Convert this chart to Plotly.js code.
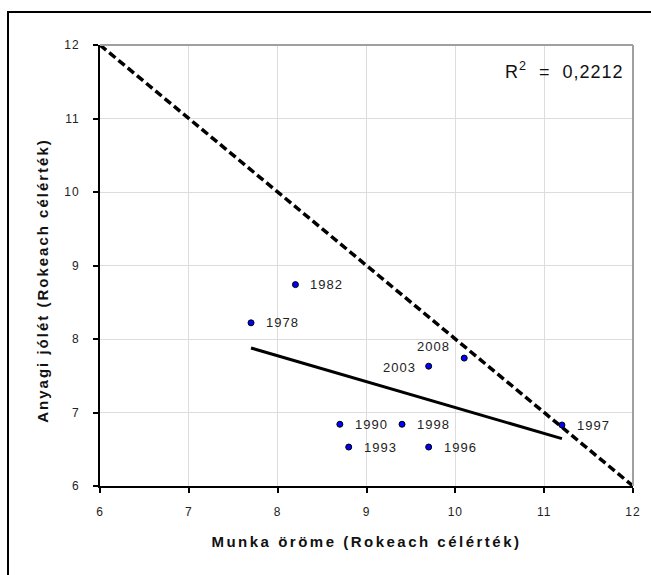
<!DOCTYPE html>
<html><head><meta charset="utf-8">
<script src="https://cdn.plot.ly/plotly-3.0.1.min.js"></script>
<style>
html,body{margin:0;padding:0;background:#fff}
#chart{width:651px;height:575px}
.xtitle{letter-spacing:2.5px}
.ytitle{letter-spacing:2px}
.xtick text,.ytick text{letter-spacing:1px}
.annotation-text{letter-spacing:1px}
</style></head><body><div id="chart"></div>
<script>
// Data
const years       = ['1978','1982','1990','1993','1998','2003','1996','2008','1997'];
const munkaOrome  = [7.7, 8.2, 8.7, 8.8, 9.4, 9.7, 9.7, 10.1, 11.2];
const anyagiJolet = [8.22, 8.74, 6.84, 6.53, 6.84, 7.63, 6.53, 7.74, 6.83];
const diagX = [6, 12];
const diagY = [12, 6];
const axisTicks = [6, 7, 8, 9, 10, 11, 12];
const r2Text = 'R<sup>2</sup>  =  0,2212';
const xTitle = 'Munka öröme (Rokeach célérték)';
const yTitle = 'Anyagi jólét (Rokeach célérték)';

// least squares trend line
const n = munkaOrome.length;
const mx = munkaOrome.reduce((a,b)=>a+b,0)/n;
const my = anyagiJolet.reduce((a,b)=>a+b,0)/n;
let sxy=0, sxx=0;
for(let i=0;i<n;i++){sxy+=(munkaOrome[i]-mx)*(anyagiJolet[i]-my);sxx+=(munkaOrome[i]-mx)**2;}
const slope=sxy/sxx, icpt=my-slope*mx;
const tx=[Math.min(...munkaOrome), Math.max(...munkaOrome)];
const ty=tx.map(v=>icpt+slope*v);

const FONT='Liberation Sans, Arial, sans-serif';
const traces=[
  {x:diagX,y:diagY,mode:'lines',line:{color:'#000',width:3.5,dash:'8px,4px'},hoverinfo:'skip',showlegend:false},
  {x:tx,y:ty,mode:'lines',line:{color:'#000',width:3},hoverinfo:'skip',showlegend:false},
  {x:munkaOrome,y:anyagiJolet,mode:'markers',marker:{size:6,color:'#0000ff',line:{color:'#000',width:1}},showlegend:false}
];

const placement={'2003':'left','2008':'upleft'};
const annotations=years.map((yr,i)=>{
  const p=placement[yr]||'right';
  const a={x:munkaOrome[i],y:anyagiJolet[i],xref:'x',yref:'y',text:yr,showarrow:false,
    font:{family:FONT,size:13,color:'#222'},yanchor:'middle'};
  if(p==='right'){a.xanchor='left';a.xshift=13;}
  else if(p==='left'){a.xanchor='right';a.xshift=-11;a.yshift=-1;}
  else {a.xanchor='right';a.xshift=-12;a.yshift=12;}
  return a;
});
annotations.push({xref:'paper',yref:'paper',x:1,y:1,xanchor:'right',yanchor:'top',xshift:-7,yshift:-12,
  text:r2Text,showarrow:false,font:{family:FONT,size:18,color:'#111'}});

const axisCommon={range:[6,12],tickvals:axisTicks,ticks:'outside',ticklen:5,tickwidth:2,tickcolor:'#000',
  showline:true,linecolor:'#000',linewidth:2,showgrid:true,gridcolor:'#dcdcdc',gridwidth:1,zeroline:false,
  tickfont:{family:FONT,size:12,color:'#222'},fixedrange:true};

const layout={
  width:651,height:575,margin:{l:100,r:18,t:45,b:89},
  paper_bgcolor:'#fff',plot_bgcolor:'#fff',font:{family:FONT},
  xaxis:Object.assign({},axisCommon,{ticklabelstandoff:9,
    title:{text:xTitle,font:{family:FONT,size:15,weight:'bold',color:'#111'},standoff:18}}),
  yaxis:Object.assign({},axisCommon,{ticklabelstandoff:11,
    title:{text:yTitle,font:{family:FONT,size:15,weight:'bold',color:'#111'},standoff:12}}),
  annotations:annotations,
  shapes:[
    {type:'line',xref:'paper',yref:'paper',x0:0,x1:1,y0:1,y1:1,line:{color:'#a0a0a0',width:2}},
    {type:'line',xref:'paper',yref:'paper',x0:1,x1:1,y0:0,y1:1,line:{color:'#a0a0a0',width:2}},
    {type:'rect',xref:'paper',yref:'paper',x0:-0.1726,x1:1.1,y0:-0.3,y1:1.0748,line:{color:'#000',width:2},fillcolor:'rgba(0,0,0,0)'}
  ]
};
Plotly.newPlot('chart',traces,layout,{displayModeBar:false,staticPlot:true}).then(()=>{
  const yt=document.querySelector('.ytitle');
  if(yt){ yt.setAttribute('transform','translate(0,15) '+(yt.getAttribute('transform')||'')); }
});
</script></body></html>
